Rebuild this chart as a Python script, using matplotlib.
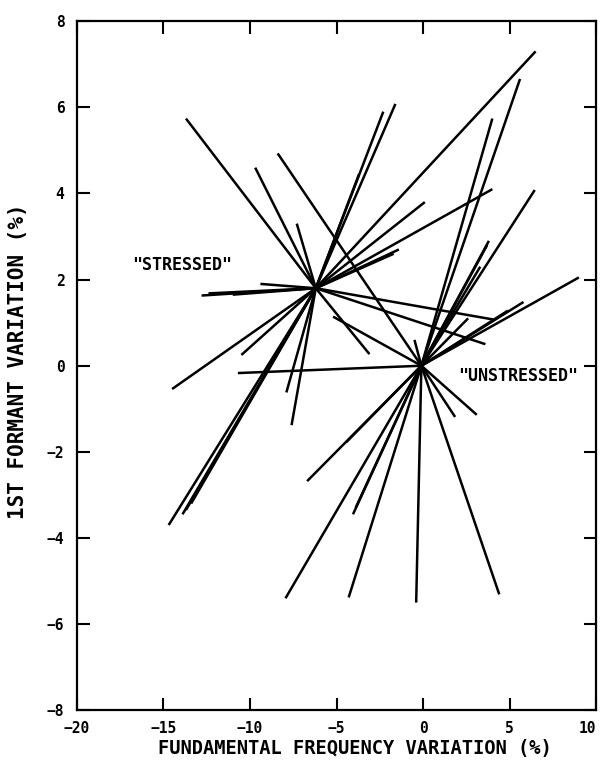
import matplotlib
matplotlib.use("Agg")
import matplotlib.pyplot as plt

# centre points of the two conditions (F0 variation %, F1 variation %)
stressed_center = (-6.2, 1.8)
unstressed_center = (-0.1, 0.0)

# far ends of the segments drawn out from the "stressed" centre
stressed_x = [-13.7, -9.7, -7.3, -2.3, -1.6, -3.7, 6.5, 0.1, 4.0, -1.4, -1.7,
              4.1, 3.6, -3.1, -12.8, -12.4, -11.0, -9.4, -14.5, -10.5,
              -13.4, -13.7, -13.9, -14.7, -7.9, -7.6]
stressed_y = [5.74, 4.6, 3.3, 5.9, 6.08, 4.45, 7.3, 3.8, 4.1, 2.7, 2.6,
              1.07, 0.5, 0.27, 1.63, 1.68, 1.65, 1.9, -0.54, 0.25,
              -3.2, -3.35, -3.45, -3.7, -0.62, -1.38]

# far ends of the segments drawn out from the "unstressed" centre
unstressed_x = [-8.4, -5.2, -10.7, -6.7, -4.45, -4.05, -3.9, -7.95, -4.3, -0.4,
                4.4, 1.85, 3.1, 5.6, 4.0, 6.45, 3.8, 3.7, 3.3, 9.0, 5.8, 4.9,
                2.6, -0.5]
unstressed_y = [4.93, 1.14, -0.17, -2.68, -1.78, -3.45, -3.3, -5.4, -5.38, -5.5,
                -5.31, -1.19, -1.14, 6.66, 5.74, 4.08, 2.9, 2.8, 2.3, 2.05, 1.48, 1.28,
                1.1, 0.6]

xticks = list(range(-20, 11, 5))
yticks = list(range(-8, 9, 2))

plt.rcParams['font.family'] = ['DejaVu Sans Mono']
plt.rcParams['font.weight'] = 'bold'
plt.rcParams['axes.labelweight'] = 'bold'

fig = plt.figure(figsize=(6.01, 7.72), dpi=100)
ax = fig.add_axes([0.128, 0.080, 0.864, 0.8925])

for ex, ey in zip(stressed_x, stressed_y):
    ax.plot([stressed_center[0], ex], [stressed_center[1], ey],
            color='black', lw=1.8, solid_capstyle='butt')
for ex, ey in zip(unstressed_x, unstressed_y):
    ax.plot([unstressed_center[0], ex], [unstressed_center[1], ey],
            color='black', lw=1.8, solid_capstyle='butt')

ax.text(-13.9, 2.35, '"STRESSED"', ha='center', va='center', fontsize=12)
ax.text(5.5, -0.24, '"UNSTRESSED"', ha='center', va='center', fontsize=12)

ax.set_xlim(-20, 10)
ax.set_ylim(-8, 8)
ax.set_xticks(xticks)
ax.set_yticks(yticks)
ax.tick_params(direction='in', length=9, width=1.5, top=True, right=True,
               labelsize=10.5)
ax.tick_params(axis='x', pad=8)
ax.tick_params(axis='y', pad=9)
# keep the last x label inside the figure
ax.get_xticklabels()[-1].set_horizontalalignment('right')
for spine in ax.spines.values():
    spine.set_linewidth(1.6)

ax.set_xlabel('FUNDAMENTAL FREQUENCY VARIATION (%)', fontsize=13.5, va='center')
ax.xaxis.set_label_coords(0.535, -0.056)
ax.set_ylabel('1ST FORMANT VARIATION (%)', fontsize=15, va='center')
ax.yaxis.set_label_coords(-0.114, 0.507)

fig.savefig('out.png', dpi=100)
